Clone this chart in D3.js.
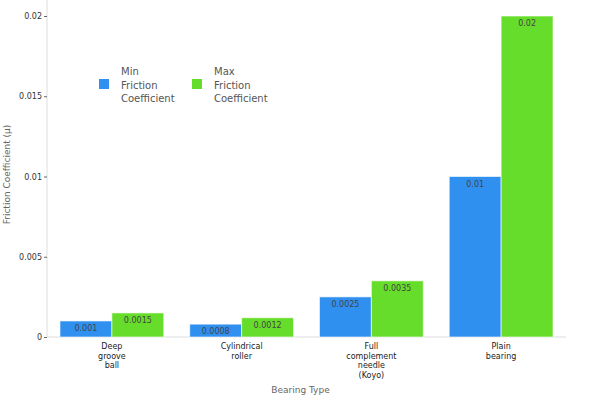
<!DOCTYPE html>
<html>
<head>
<meta charset="utf-8">
<script src="https://cdn.jsdelivr.net/npm/d3@7"></script>
<style>
body { margin: 0; background: #fff; }
text { font-family: "DejaVu Sans", sans-serif; }
</style>
</head>
<body>
<div class="mainviz"></div>
<script>
var categories = [
	["Deep", "groove", "ball"],
	["Cylindrical", "roller"],
	["Full", "complement", "needle", "(Koyo)"],
	["Plain", "bearing"]
];
var seriesNames = [["Min", "Friction", "Coefficient"], ["Max", "Friction", "Coefficient"]];
var minValues = [0.001, 0.0008, 0.0025, 0.01];
var maxValues = [0.0015, 0.0012, 0.0035, 0.02];
var yTicks = [0, 0.005, 0.01, 0.015, 0.02];
var colors = ["#3090f0", "#66dd2a"];

var width = 600, height = 400;
var margin = { top: 16, right: 34, bottom: 63, left: 47 };
var plotW = width - margin.left - margin.right,
	plotH = height - margin.top - margin.bottom;

var svg = d3.select(".mainviz").append("svg")
	.attr("width", width)
	.attr("height", height);

var chartGroup = svg.append("g")
	.attr("transform", "translate(" + margin.left + "," + margin.top + ")");

var x = d3.scaleBand()
	.domain(d3.range(categories.length))
	.range([0, plotW])
	.paddingInner(0.2)
	.paddingOuter(0.1);

var xs = d3.scaleBand()
	.domain([0, 1])
	.range([0, x.bandwidth()]);

var y = d3.scaleLinear()
	.domain([0, 0.02])
	.range([plotH, 0]);

// axes
var yAxis = d3.axisLeft(y).tickValues(yTicks).tickSize(3).tickPadding(2)
	.tickFormat(function(d){ return d === 0 ? "0" : String(+d.toFixed(4)); });

var gy = chartGroup.append("g").call(yAxis);
gy.select(".domain").attr("stroke", "#ddd").attr("d", "M0," + (-margin.top) + "V" + plotH);
gy.selectAll(".tick line").attr("stroke", "#666");
gy.selectAll("text").attr("font-size", 8).attr("fill", "#333").attr("font-family", "DejaVu Sans");

chartGroup.append("line")
	.attr("x1", 0).attr("x2", plotW)
	.attr("y1", plotH).attr("y2", plotH)
	.attr("stroke", "#ddd");

var data = minValues.map(function(d, i){ return [d, maxValues[i]]; });

var groups = chartGroup.selectAll("g.grp")
	.data(data)
	.enter().append("g")
	.attr("class", "grp")
	.attr("transform", function(d, i){ return "translate(" + x(i) + ",0)"; });

groups.selectAll("rect")
	.data(function(d){ return d; })
	.enter().append("rect")
	.attr("x", function(d, j){ return xs(j); })
	.attr("y", function(d){ return y(d); })
	.attr("width", xs.bandwidth())
	.attr("height", function(d){ return plotH - y(d); })
	.attr("fill", function(d, j){ return colors[j]; })
	.attr("stroke", "rgba(255,255,255,0.6)")
	.attr("stroke-width", 1);

groups.selectAll("text.val")
	.data(function(d){ return d; })
	.enter().append("text")
	.attr("class", "val")
	.attr("x", function(d, j){ return xs(j) + xs.bandwidth() / 2; })
	.attr("y", function(d){ return y(d) + 10; })
	.attr("text-anchor", "middle")
	.attr("font-size", 8)
	.attr("fill", "#444")
	.text(function(d){ return String(d); });

// x tick labels
var xl = chartGroup.selectAll("text.xl")
	.data(categories)
	.enter().append("text")
	.attr("class", "xl")
	.attr("text-anchor", "middle")
	.attr("font-size", 8)
	.attr("fill", "#222")
	.attr("transform", function(d, i){ return "translate(" + (x(i) + x.bandwidth() / 2) + "," + (plotH + 12) + ")"; });

xl.selectAll("tspan")
	.data(function(d){ return d; })
	.enter().append("tspan")
	.attr("x", 0)
	.attr("dy", function(d, k){ return k === 0 ? 0 : 9.5; })
	.text(function(d){ return d; });

svg.append("text")
	.attr("x", margin.left + plotW / 2 - 6)
	.attr("y", 393)
	.attr("text-anchor", "middle")
	.attr("font-size", 9)
	.attr("fill", "#666")
	.text("Bearing Type");

svg.append("text")
	.attr("transform", "translate(10," + (margin.top + plotH / 2 - 2) + ") rotate(-90)")
	.attr("text-anchor", "middle")
	.attr("font-size", 9)
	.attr("fill", "#666")
	.text("Friction Coefficient (μ)");

// legend
var legend = svg.selectAll("g.leg")
	.data(seriesNames)
	.enter().append("g")
	.attr("class", "leg")
	.attr("transform", function(d, i){ return "translate(" + (99 + i * 93) + ",0)"; });

legend.append("rect")
	.attr("x", 0).attr("y", 79)
	.attr("width", 10).attr("height", 10)
	.attr("fill", function(d, i){ return colors[i]; });

legend.append("text")
	.attr("font-size", 10)
	.attr("fill", "#555")
	.selectAll("tspan")
	.data(function(d){ return d; })
	.enter().append("tspan")
	.attr("x", 22)
	.attr("y", function(d, k){ return 75 + k * 13.7; })
	.text(function(d){ return d; });
</script>
</body>
</html>
